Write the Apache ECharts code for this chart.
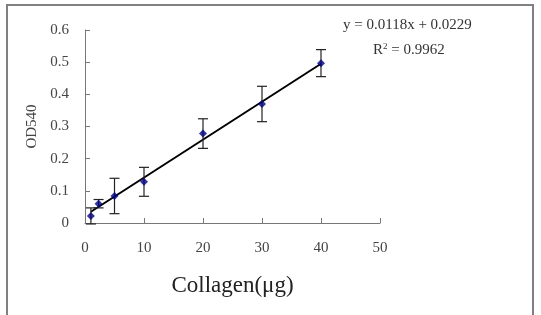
<!DOCTYPE html>
<html>
<head>
  <meta charset="utf-8">
  <title>Collagen OD540</title>
  <script src="https://cdn.jsdelivr.net/npm/echarts@6/dist/echarts.min.js"></script>
  <style>
    body { margin: 0; background: #fff; }
    #main { width: 541px; height: 315px; }
  </style>
</head>
<body>
  <div id="main"></div>
  <script type="text/javascript">
    // data
    var collagen = [1, 2.3, 5, 10, 20, 30, 40];
    var od540 = [0.022, 0.060, 0.084, 0.128, 0.278, 0.370, 0.497];
    var errs = [0.025, 0.013, 0.055, 0.045, 0.046, 0.055, 0.042];
    var trendX = [1, 40];
    var trendY = [0.035, 0.495];
    var xTicks = [0, 10, 20, 30, 40, 50];
    var yTicks = [0, 0.1, 0.2, 0.3, 0.4, 0.5, 0.6];

    var font = '"Liberation Serif", "DejaVu Serif", serif';
    var myChart = echarts.init(document.getElementById('main'));

    var points = collagen.map(function (x, i) { return [x, od540[i]]; });
    var bars = collagen.map(function (x, i) { return [x, od540[i] - errs[i], od540[i] + errs[i]]; });
    var trend = trendX.map(function (x, i) { return [x, trendY[i]]; });

    myChart.setOption({
      animation: false,
      grid: { left: 85, top: 30, right: 161, bottom: 92 },
      xAxis: {
        type: 'value', min: xTicks[0], max: xTicks[xTicks.length - 1], interval: 10,
        name: 'Collagen(μg)', nameLocation: 'middle', nameGap: 51,
        nameTextStyle: { fontFamily: font, fontSize: 23, color: '#222' },
        axisLine: { lineStyle: { color: '#777', width: 1 } },
        axisTick: { inside: true, length: 5, lineStyle: { color: '#777' } },
        axisLabel: { margin: 18, fontFamily: font, fontSize: 15, color: '#444' },
        splitLine: { show: false }
      },
      yAxis: {
        type: 'value', min: yTicks[0], max: yTicks[yTicks.length - 1], interval: 0.1,
        name: 'OD540', nameLocation: 'middle', nameGap: 45,
        nameTextStyle: { fontFamily: font, fontSize: 15, color: '#444' },
        axisLine: { show: true, lineStyle: { color: '#777', width: 1 } },
        axisTick: { show: true, inside: true, length: 5, lineStyle: { color: '#777' } },
        axisLabel: { margin: 16, fontFamily: font, fontSize: 15, color: '#444' },
        splitLine: { show: false }
      },
      graphic: [
        { type: 'rect', shape: { x: 7, y: 5, width: 526, height: 320 }, style: { fill: 'none', stroke: '#808080', lineWidth: 2 }, silent: true },
        { type: 'text', left: 343, top: 18, style: { text: 'y = 0.0118x + 0.0229', font: '15px ' + font, fill: '#333' } },
        { type: 'text', left: 373, top: 42, style: {
            text: 'R{sup|2} = 0.9962', font: '15px ' + font, fill: '#333',
            rich: { sup: { fontSize: 9, verticalAlign: 'top', padding: [0, 0, 8, 0], fontFamily: font, fill: '#333' } }
        } }
      ],
      series: [
        {
          type: 'line', data: trend, symbol: 'none', z: 3,
          lineStyle: { color: '#000', width: 2 }
        },
        {
          type: 'custom', data: bars, z: 4,
          renderItem: function (params, api) {
            var x = api.value(0);
            var lo = api.coord([x, api.value(1)]);
            var hi = api.coord([x, api.value(2)]);
            var w = 5;
            var st = { stroke: '#222', lineWidth: 1.2 };
            return {
              type: 'group', children: [
                { type: 'line', shape: { x1: lo[0], y1: lo[1], x2: hi[0], y2: hi[1] }, style: st },
                { type: 'line', shape: { x1: lo[0] - w, y1: lo[1], x2: lo[0] + w, y2: lo[1] }, style: st },
                { type: 'line', shape: { x1: hi[0] - w, y1: hi[1], x2: hi[0] + w, y2: hi[1] }, style: st }
              ]
            };
          }
        },
        {
          type: 'scatter', data: points, symbol: 'diamond', symbolSize: 8, z: 5,
          itemStyle: { color: '#000080' }
        }
      ]
    });
  </script>
</body>
</html>
